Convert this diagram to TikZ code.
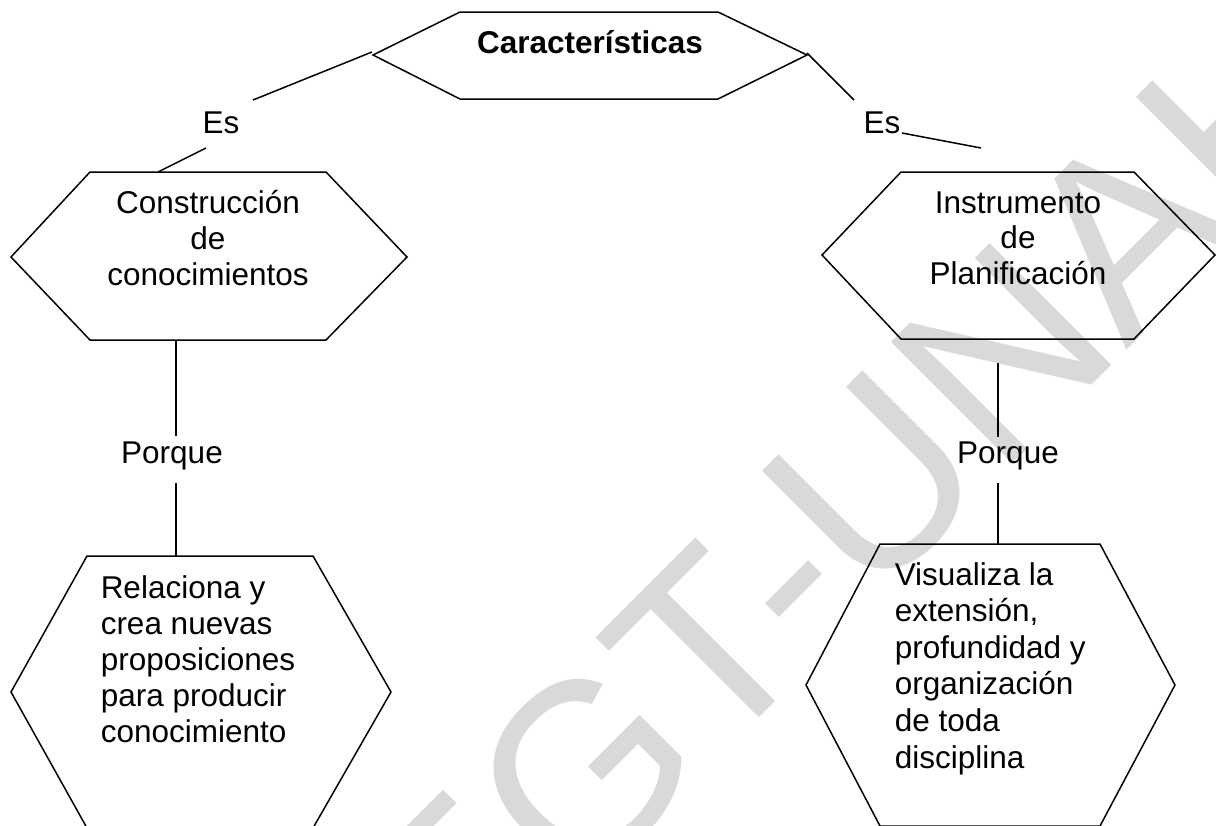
\documentclass[tikz,border=0pt]{standalone}
\usepackage{fontspec}
\setmainfont{Liberation Sans}
\definecolor{wm}{RGB}{217,217,217}
\begin{document}
\begin{tikzpicture}[x=1pt,y=-1pt,line width=1.5pt,
  lbl/.style={inner sep=0pt,font=\fontsize{31.5}{36}\selectfont},
  hexa/.style={draw=black,line width=1.5pt,line join=miter},
  conn/.style={draw=black,line width=1.5pt}]
\useasboundingbox (0,0) rectangle (1216,825);
\clip (0,0) rectangle (1216,825);
% watermark
\node[rotate=45,anchor=base west,inner sep=0pt,text=wm,font=\fontsize{250}{250}\selectfont] (wmark) at (330,1147) {DEGT-UNAH};
% hexagons
\draw[hexa] (373,55) -- (460,12) -- (718,12) -- (807,55) -- (718,99) -- (460,99) -- cycle;
\draw[hexa] (11,257) -- (90,172) -- (326,172) -- (407,257) -- (326,340) -- (90,340) -- cycle;
\draw[hexa] (822,255) -- (901,172) -- (1134,172) -- (1215,255) -- (1134,339) -- (901,339) -- cycle;
\draw[hexa] (11,692) -- (87,556) -- (313,556) -- (391,692) -- (313,828) -- (87,828) -- cycle;
\draw[hexa] (806,685) -- (880,544) -- (1100,544) -- (1175,685) -- (1100,826) -- (880,826) -- cycle;
% texts (base anchor = baseline of the last line)
\node[lbl,font=\fontsize{31.5}{36}\selectfont\bfseries,anchor=base] (car) at (590,53) {Características};
\node[lbl,anchor=base] (esL) at (221,133) {Es};
\node[lbl,anchor=base] (esR) at (882,133) {Es};
\node[lbl,align=center,anchor=base] (cons) at (208,285) {Construcción\\de\\conocimientos};
\node[lbl,font=\fontsize{31.5}{35.5}\selectfont,align=center,anchor=base] (inst) at (1018,284) {Instrumento\\de\\Planificación};
\node[lbl,anchor=base] (porL) at (172,463) {Porque};
\node[lbl,anchor=base] (porR) at (1008,463) {Porque};
\node[lbl,align=left,anchor=base west] (rel) at (100,742) {Relaciona y\\crea nuevas\\proposiciones\\para producir\\conocimiento};
\node[lbl,font=\fontsize{31.5}{36.6}\selectfont,align=left,anchor=base west] (vis) at (894,768) {Visualiza la\\extensión,\\profundidad y\\organización\\de toda\\disciplina};
% connector end points
\coordinate (carL) at (372,52);
\coordinate (carR) at (807,53);
\coordinate (esLtop) at (253,100);
\coordinate (esLbot) at (206,148);
\coordinate (consTop) at (158,172);
\coordinate (esRtop) at (854,100);
\coordinate (esRr) at (902,133);
\coordinate (instTop) at (981,148);
\coordinate (consBot) at (176,340);
\coordinate (porLa) at (176,436);
\coordinate (porLb) at (176,483);
\coordinate (relTop) at (176,556);
\coordinate (instBot) at (998,363);
\coordinate (porRa) at (998,437);
\coordinate (porRb) at (998,483);
\coordinate (visTop) at (998,544);
% connectors
\draw[conn] (carL) -- (esLtop);
\draw[conn] (esLbot) -- (consTop);
\draw[conn] (carR) -- (esRtop);
\draw[conn] (esRr) -- (instTop);
\draw[conn] (consBot) -- (porLa);
\draw[conn] (porLb) -- (relTop);
\draw[conn] (instBot) -- (porRa);
\draw[conn] (porRb) -- (visTop);
\end{tikzpicture}
\end{document}
